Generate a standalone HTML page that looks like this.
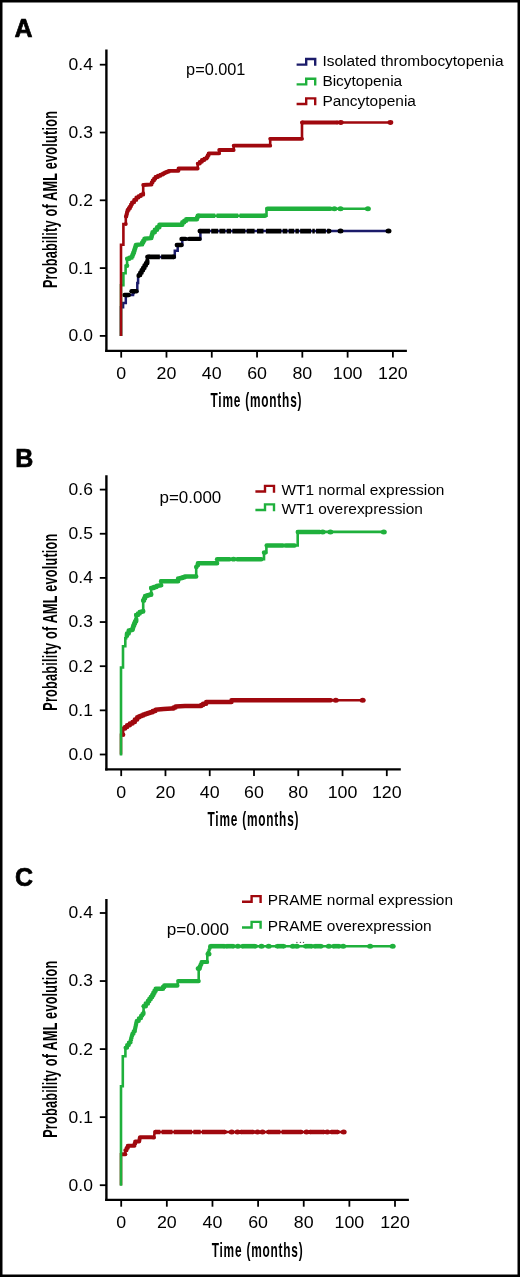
<!DOCTYPE html>
<html><head><meta charset="utf-8"><title>AML evolution</title>
<style>html,body{margin:0;padding:0;background:#fff;}svg{display:block;will-change:transform;}text{fill:#000;}</style>
</head><body>
<svg width="520" height="1277" viewBox="0 0 520 1277" font-family='"Liberation Sans", sans-serif'>
<rect x="0" y="0" width="520" height="1277" fill="#000"/>
<rect x="2.5" y="2.5" width="515" height="1272" fill="#fff"/>
<text x="14.5" y="36.6" font-size="25.0" text-anchor="start" font-weight="bold" stroke="#000" stroke-width="0.7" stroke-linejoin="round">A</text>
<text x="15.3" y="466.9" font-size="25.0" text-anchor="start" font-weight="bold" stroke="#000" stroke-width="0.7" stroke-linejoin="round">B</text>
<text x="15.0" y="885.7" font-size="25.0" text-anchor="start" font-weight="bold" stroke="#000" stroke-width="0.7" stroke-linejoin="round">C</text>
<line x1="106.4" y1="49.4" x2="106.4" y2="352.0" stroke="#000" stroke-width="2.4"/>
<line x1="105.2" y1="350.8" x2="406.9" y2="350.8" stroke="#000" stroke-width="2.2"/>
<line x1="99.8" y1="335.9" x2="106" y2="335.9" stroke="#000" stroke-width="1.8"/>
<text transform="translate(92.9,341.30) scale(1.06,1)" font-size="16.5" text-anchor="end">0.0</text>
<line x1="99.8" y1="268.09999999999997" x2="106" y2="268.09999999999997" stroke="#000" stroke-width="1.8"/>
<text transform="translate(92.9,273.50) scale(1.06,1)" font-size="16.5" text-anchor="end">0.1</text>
<line x1="99.8" y1="200.29999999999998" x2="106" y2="200.29999999999998" stroke="#000" stroke-width="1.8"/>
<text transform="translate(92.9,205.70) scale(1.06,1)" font-size="16.5" text-anchor="end">0.2</text>
<line x1="99.8" y1="132.49999999999997" x2="106" y2="132.49999999999997" stroke="#000" stroke-width="1.8"/>
<text transform="translate(92.9,137.90) scale(1.06,1)" font-size="16.5" text-anchor="end">0.3</text>
<line x1="99.8" y1="64.69999999999999" x2="106" y2="64.69999999999999" stroke="#000" stroke-width="1.8"/>
<text transform="translate(92.9,70.10) scale(1.06,1)" font-size="16.5" text-anchor="end">0.4</text>
<line x1="121.20" y1="350.8" x2="121.20" y2="357.6" stroke="#000" stroke-width="1.8"/>
<text transform="translate(121.20,378.80) scale(1.08,1)" font-size="16.5" text-anchor="middle">0</text>
<line x1="166.48" y1="350.8" x2="166.48" y2="357.6" stroke="#000" stroke-width="1.8"/>
<text transform="translate(166.48,378.80) scale(1.08,1)" font-size="16.5" text-anchor="middle">20</text>
<line x1="211.77" y1="350.8" x2="211.77" y2="357.6" stroke="#000" stroke-width="1.8"/>
<text transform="translate(211.77,378.80) scale(1.08,1)" font-size="16.5" text-anchor="middle">40</text>
<line x1="257.05" y1="350.8" x2="257.05" y2="357.6" stroke="#000" stroke-width="1.8"/>
<text transform="translate(257.05,378.80) scale(1.08,1)" font-size="16.5" text-anchor="middle">60</text>
<line x1="302.33" y1="350.8" x2="302.33" y2="357.6" stroke="#000" stroke-width="1.8"/>
<text transform="translate(302.33,378.80) scale(1.08,1)" font-size="16.5" text-anchor="middle">80</text>
<line x1="347.62" y1="350.8" x2="347.62" y2="357.6" stroke="#000" stroke-width="1.8"/>
<text transform="translate(347.62,378.80) scale(1.08,1)" font-size="16.5" text-anchor="middle">100</text>
<line x1="392.90" y1="350.8" x2="392.90" y2="357.6" stroke="#000" stroke-width="1.8"/>
<text transform="translate(392.90,378.80) scale(1.08,1)" font-size="16.5" text-anchor="middle">120</text>
<g transform="translate(256.0,407.2) scale(0.6,1)"><text x="0" y="0" font-size="19.8" text-anchor="middle" font-weight="bold" textLength="151.67" lengthAdjust="spacing">Time (months)</text></g>
<g transform="translate(57.4,199.6) rotate(-90) scale(0.6,1)"><text x="0" y="0" font-size="21.1" text-anchor="middle" font-weight="bold" textLength="295.00" lengthAdjust="spacing">Probability of AML evolution</text></g>
<text x="186.1" y="75.0" font-size="16.2" text-anchor="start" font-weight="normal" textLength="59.3" lengthAdjust="spacingAndGlyphs">p=0.001</text>
<path d="M296.6,64.6 H306.20000000000005 V58.99999999999999 H315.20000000000005 V65.8" fill="none" stroke="#1b1b6a" stroke-width="2.4" stroke-linecap="butt" stroke-linejoin="miter"/>
<path d="M296.6,84.4 H306.20000000000005 V78.80000000000001 H315.20000000000005 V85.60000000000001" fill="none" stroke="#1fb03c" stroke-width="2.4" stroke-linecap="butt" stroke-linejoin="miter"/>
<path d="M296.6,104.0 H306.20000000000005 V98.4 H315.20000000000005 V105.2" fill="none" stroke="#a0080e" stroke-width="2.4" stroke-linecap="butt" stroke-linejoin="miter"/>
<text x="322.4" y="66.3" font-size="15.45" text-anchor="start" font-weight="normal" >Isolated thrombocytopenia</text>
<text x="322.4" y="86.2" font-size="15.45" text-anchor="start" font-weight="normal" >Bicytopenia</text>
<text x="322.4" y="105.9" font-size="15.45" text-anchor="start" font-weight="normal" >Pancytopenia</text>
<path d="M121,336 L121,307.3 L123.1,307.3 L123.1,303.1 L125.8,303.1 L125.8,298.1 L126.5,295 L132.3,295 L133.05,295 L133.05,293.1 L133.8,293.1 L133.8,291.2 L137.3,291.2 L137.3,283.1 L138.1,283.1 L138.1,278.1 L138.8,275 L140.22,275 L140.22,272.63 L141.63,272.63 L141.63,270.27 L143.05,270.27 L143.05,267.9 L144.47,267.9 L144.47,265.53 L145.88,265.53 L145.88,263.17 L147.3,263.17 L147.3,260.8 L147.3,256.9 L174.8,256.9 L174.8,250.8 L177.7,250.8 L177.7,245 L182.3,245 L182.3,238.9 L200.4,238.9 L200.4,231.1 L388.5,231.1" fill="none" stroke="#1b1b6a" stroke-width="2.5" stroke-linejoin="miter" stroke-miterlimit="2"/>
<path d="M124.5,295 L128.8,295" fill="none" stroke="#000" stroke-width="4.4" stroke-linecap="round" stroke-linejoin="round"/>
<path d="M131.5,291.2 L136.5,291.2" fill="none" stroke="#000" stroke-width="4.4" stroke-linecap="round" stroke-linejoin="round"/>
<path d="M176.8,245 L181.5,245" fill="none" stroke="#000" stroke-width="4.4" stroke-linecap="round" stroke-linejoin="round"/>
<path d="M181.5,238.9 L185.5,238.9" fill="none" stroke="#000" stroke-width="4.4" stroke-linecap="round" stroke-linejoin="round"/>
<path d="M189,238.9 L199.5,238.9" fill="none" stroke="#000" stroke-width="4.4" stroke-linecap="round" stroke-linejoin="round"/>
<path d="M148.50,256.9 H159.85 M161.15,256.9 H173.80" fill="none" stroke="#000" stroke-width="4.6" stroke-linecap="butt"/>
<circle cx="148.5" cy="256.9" r="2.3" fill="#000"/><circle cx="173.8" cy="256.9" r="2.3" fill="#000"/>
<path d="M199.80,231.1 H209.95 M211.25,231.1 H218.15 M219.45,231.1 H225.35 M226.65,231.1 H231.05 M232.35,231.1 H245.35 M246.65,231.1 H254.60 M257.00,231.1 H263.50 M265.90,231.1 H281.35 M282.65,231.1 H287.35 M288.65,231.1 H294.15 M295.45,231.1 H298.85 M300.15,231.1 H311.05 M312.35,231.1 H314.75 M316.05,231.1 H325.85 M327.15,231.1 H329.20" fill="none" stroke="#000" stroke-width="4.6" stroke-linecap="butt"/>
<circle cx="199.8" cy="231.1" r="2.3" fill="#000"/><circle cx="329.2" cy="231.1" r="2.3" fill="#000"/>
<path d="M138.6,275.89 L138.8,275 L140.22,275 L140.22,272.63 L141.63,272.63 L141.63,270.27 L143.05,270.27 L143.05,267.9 L144.47,267.9 L144.47,265.53 L145.88,265.53 L145.88,263.17 L147.3,263.17 L147.3,260.8" fill="none" stroke="#000" stroke-width="4.4" stroke-linecap="round" stroke-linejoin="round"/>
<path d="M147.3,256.9 L147.3,256.9" fill="none" stroke="#000" stroke-width="4.4" stroke-linecap="round" stroke-linejoin="round"/>
<ellipse cx="340.5" cy="231.1" rx="3.00" ry="2.50" fill="#000"/>
<ellipse cx="388.5" cy="231.1" rx="3.00" ry="2.50" fill="#000"/>
<path d="M121,336 L121,285.2 L123.4,285.2 L123.4,273.3 L125.6,273.3 L125.6,265.8 L127.1,265.8 L127.1,258.8 L129.4,258.8 L129.4,257.65 L131.7,257.65 L131.7,256.5 L132.47,256.5 L132.47,254.6 L133.23,254.6 L133.23,252.7 L134,252.7 L134,250.8 L134.6,250.8 L134.6,248.87 L135.2,248.87 L135.2,246.93 L135.8,246.93 L135.8,245 L141,244.4 L142.13,244.4 L142.13,242.5 L143.27,242.5 L143.27,240.6 L144.4,240.6 L144.4,238.7 L150.8,238.1 L151.37,238.1 L151.37,236.17 L151.93,236.17 L151.93,234.23 L152.5,234.23 L152.5,232.3 L154.8,232.3 L154.8,229.8 L157.1,229.8 L157.1,227.3 L159.4,227.3 L159.4,224.8 L180.4,224.8 L182.3,224.8 L182.3,222.3 L184.25,222.3 L184.25,220.8 L186.2,220.8 L186.2,219.3 L196.2,219.3 L196.95,219.3 L196.95,217.55 L197.7,217.55 L197.7,215.8 L266.5,215.8 L266.5,208.8 L367.9,208.8" fill="none" stroke="#1fb03c" stroke-width="2.6" stroke-linejoin="miter" stroke-miterlimit="2"/>
<path d="M127.1,265.8 L127.1,265.8" fill="none" stroke="#1fb03c" stroke-width="4.4" stroke-linecap="round" stroke-linejoin="round"/>
<path d="M127.1,258.8 L129.4,258.8 L129.4,257.65 L131.7,257.65 L131.7,256.5 L132.47,256.5 L132.47,254.6 L133.23,254.6 L133.23,252.7 L134,252.7 L134,250.8 L134.6,250.8 L134.6,248.87 L135.2,248.87 L135.2,246.93 L135.8,246.93 L135.8,245 L141,244.4 L142.13,244.4 L142.13,242.5 L143.27,242.5 L143.27,240.6 L144.4,240.6 L144.4,238.7 L150.8,238.1 L151.37,238.1 L151.37,236.17 L151.93,236.17 L151.93,234.23 L152.5,234.23 L152.5,232.3 L154.8,232.3 L154.8,229.8 L157.1,229.8 L157.1,227.3 L159.4,227.3 L159.4,224.8 L180.4,224.8 L182.3,224.8 L182.3,222.3 L184.25,222.3 L184.25,220.8 L186.2,220.8 L186.2,219.3 L196.2,219.3 L196.95,219.3 L196.95,217.55 L197.7,217.55 L197.7,215.8 L197.7,215.8" fill="none" stroke="#1fb03c" stroke-width="4.4" stroke-linecap="round" stroke-linejoin="round"/>
<path d="M198.50,215.8 H215.25 M216.55,215.8 H238.25 M239.55,215.8 H265.00" fill="none" stroke="#1fb03c" stroke-width="4.6" stroke-linecap="butt"/>
<circle cx="198.5" cy="215.8" r="2.3" fill="#1fb03c"/><circle cx="265.0" cy="215.8" r="2.3" fill="#1fb03c"/>
<path d="M267.5,208.8 L330.4,208.8" fill="none" stroke="#1fb03c" stroke-width="4.6" stroke-linecap="round" stroke-linejoin="round"/>
<ellipse cx="334.4" cy="208.8" rx="3.00" ry="2.50" fill="#1fb03c"/>
<ellipse cx="340.5" cy="208.8" rx="3.00" ry="2.50" fill="#1fb03c"/>
<ellipse cx="367.9" cy="208.8" rx="3.00" ry="2.50" fill="#1fb03c"/>
<path d="M121,336 L121,244.7 L123.4,244.7 L123.4,224 L125.8,224 L125.8,216.5 L126.37,216.5 L126.37,214.33 L126.93,214.33 L126.93,212.17 L127.5,212.17 L127.5,210 L128.75,210 L128.75,208.15 L130,208.15 L130,206.3 L131,206.3 L131,204.3 L132,204.3 L132,202.3 L134.15,202.3 L134.15,199.9 L136.3,199.9 L136.3,197.5 L138.6,197.5 L138.6,196.07 L140.9,196.07 L140.9,194.63 L143.2,194.63 L143.2,193.2 L143.2,185 L150.6,184.5 L151.6,184.5 L151.6,182.5 L152.6,182.5 L152.6,180.5 L154,180.5 L154,178.75 L155.4,178.75 L155.4,177 L157.93,177 L157.93,175.77 L160.47,175.77 L160.47,174.53 L163,174.53 L163,173.3 L164.93,173.3 L164.93,172.47 L166.87,172.47 L166.87,171.63 L168.8,171.63 L168.8,170.8 L178.5,170.8 L178.5,168.5 L197.7,168.5 L197.7,163.6 L199.8,163.6 L199.8,161.8 L201.9,161.8 L201.9,160 L204.3,160 L204.3,158.55 L206.7,158.55 L206.7,157.1 L207.7,157.1 L207.7,155.2 L208.7,155.2 L208.7,153.3 L219.2,153.3 L219.2,150 L233.7,150 L233.7,145.7 L270.2,145.7 L270.2,138.8 L302,138.8 L302,122.5 L390.4,122.5" fill="none" stroke="#a0080e" stroke-width="2.6" stroke-linejoin="miter" stroke-miterlimit="2"/>
<path d="M125.8,224 L125.8,224" fill="none" stroke="#a0080e" stroke-width="3.8" stroke-linecap="round" stroke-linejoin="round"/>
<path d="M125.8,216.5 L126.37,216.5 L126.37,214.33 L126.93,214.33 L126.93,212.17 L127.5,212.17 L127.5,210 L128.75,210 L128.75,208.15 L130,208.15 L130,206.3 L131,206.3 L131,204.3 L132,204.3 L132,202.3 L134.15,202.3 L134.15,199.9 L136.3,199.9 L136.3,197.5 L138.6,197.5 L138.6,196.07 L140.9,196.07 L140.9,194.63 L143.2,194.63 L143.2,193.2" fill="none" stroke="#a0080e" stroke-width="3.8" stroke-linecap="round" stroke-linejoin="round"/>
<path d="M143.2,185 L150.6,184.5 L151.6,184.5 L151.6,182.5 L152.6,182.5 L152.6,180.5 L154,180.5 L154,178.75 L155.4,178.75 L155.4,177 L157.93,177 L157.93,175.77 L160.47,175.77 L160.47,174.53 L163,174.53 L163,173.3 L164.93,173.3 L164.93,172.47 L166.87,172.47 L166.87,171.63 L168.8,171.63 L168.8,170.8 L178.5,170.8 L178.5,168.5 L197.7,168.5" fill="none" stroke="#a0080e" stroke-width="3.8" stroke-linecap="round" stroke-linejoin="round"/>
<path d="M197.7,163.6 L199.8,163.6 L199.8,161.8 L201.9,161.8 L201.9,160 L204.3,160 L204.3,158.55 L206.7,158.55 L206.7,157.1 L207.7,157.1 L207.7,155.2 L208.7,155.2 L208.7,153.3 L219.2,153.3" fill="none" stroke="#a0080e" stroke-width="3.8" stroke-linecap="round" stroke-linejoin="round"/>
<path d="M219.2,150 L233.7,150" fill="none" stroke="#a0080e" stroke-width="3.8" stroke-linecap="round" stroke-linejoin="round"/>
<path d="M233.7,145.7 L270.2,145.7" fill="none" stroke="#a0080e" stroke-width="3.8" stroke-linecap="round" stroke-linejoin="round"/>
<path d="M270.2,138.8 L302,138.8" fill="none" stroke="#a0080e" stroke-width="3.8" stroke-linecap="round" stroke-linejoin="round"/>
<path d="M302,122.5 L302,122.5" fill="none" stroke="#a0080e" stroke-width="3.8" stroke-linecap="round" stroke-linejoin="round"/>
<path d="M302.50,122.5 H337.50" fill="none" stroke="#a0080e" stroke-width="4.0" stroke-linecap="butt"/>
<circle cx="302.5" cy="122.5" r="2.0" fill="#a0080e"/><circle cx="337.5" cy="122.5" r="2.0" fill="#a0080e"/>
<ellipse cx="340.8" cy="122.5" rx="2.88" ry="2.40" fill="#a0080e"/>
<ellipse cx="390.4" cy="122.5" rx="2.88" ry="2.40" fill="#a0080e"/>
<line x1="106.4" y1="475.2" x2="106.4" y2="770.5" stroke="#000" stroke-width="2.4"/>
<line x1="105.2" y1="769.3" x2="400.8" y2="769.3" stroke="#000" stroke-width="2.2"/>
<line x1="99.8" y1="754.5" x2="106" y2="754.5" stroke="#000" stroke-width="1.8"/>
<text transform="translate(92.9,759.90) scale(1.06,1)" font-size="16.5" text-anchor="end">0.0</text>
<line x1="99.8" y1="710.35" x2="106" y2="710.35" stroke="#000" stroke-width="1.8"/>
<text transform="translate(92.9,715.75) scale(1.06,1)" font-size="16.5" text-anchor="end">0.1</text>
<line x1="99.8" y1="666.2" x2="106" y2="666.2" stroke="#000" stroke-width="1.8"/>
<text transform="translate(92.9,671.60) scale(1.06,1)" font-size="16.5" text-anchor="end">0.2</text>
<line x1="99.8" y1="622.05" x2="106" y2="622.05" stroke="#000" stroke-width="1.8"/>
<text transform="translate(92.9,627.45) scale(1.06,1)" font-size="16.5" text-anchor="end">0.3</text>
<line x1="99.8" y1="577.9" x2="106" y2="577.9" stroke="#000" stroke-width="1.8"/>
<text transform="translate(92.9,583.30) scale(1.06,1)" font-size="16.5" text-anchor="end">0.4</text>
<line x1="99.8" y1="533.75" x2="106" y2="533.75" stroke="#000" stroke-width="1.8"/>
<text transform="translate(92.9,539.15) scale(1.06,1)" font-size="16.5" text-anchor="end">0.5</text>
<line x1="99.8" y1="489.6" x2="106" y2="489.6" stroke="#000" stroke-width="1.8"/>
<text transform="translate(92.9,495.00) scale(1.06,1)" font-size="16.5" text-anchor="end">0.6</text>
<line x1="121.20" y1="769.3" x2="121.20" y2="776.0999999999999" stroke="#000" stroke-width="1.8"/>
<text transform="translate(121.20,797.90) scale(1.08,1)" font-size="16.5" text-anchor="middle">0</text>
<line x1="165.47" y1="769.3" x2="165.47" y2="776.0999999999999" stroke="#000" stroke-width="1.8"/>
<text transform="translate(165.47,797.90) scale(1.08,1)" font-size="16.5" text-anchor="middle">20</text>
<line x1="209.73" y1="769.3" x2="209.73" y2="776.0999999999999" stroke="#000" stroke-width="1.8"/>
<text transform="translate(209.73,797.90) scale(1.08,1)" font-size="16.5" text-anchor="middle">40</text>
<line x1="254.00" y1="769.3" x2="254.00" y2="776.0999999999999" stroke="#000" stroke-width="1.8"/>
<text transform="translate(254.00,797.90) scale(1.08,1)" font-size="16.5" text-anchor="middle">60</text>
<line x1="298.27" y1="769.3" x2="298.27" y2="776.0999999999999" stroke="#000" stroke-width="1.8"/>
<text transform="translate(298.27,797.90) scale(1.08,1)" font-size="16.5" text-anchor="middle">80</text>
<line x1="342.53" y1="769.3" x2="342.53" y2="776.0999999999999" stroke="#000" stroke-width="1.8"/>
<text transform="translate(342.53,797.90) scale(1.08,1)" font-size="16.5" text-anchor="middle">100</text>
<line x1="386.80" y1="769.3" x2="386.80" y2="776.0999999999999" stroke="#000" stroke-width="1.8"/>
<text transform="translate(386.80,797.90) scale(1.08,1)" font-size="16.5" text-anchor="middle">120</text>
<g transform="translate(253.0,826.2) scale(0.6,1)"><text x="0" y="0" font-size="19.8" text-anchor="middle" font-weight="bold" textLength="151.67" lengthAdjust="spacing">Time (months)</text></g>
<g transform="translate(57.4,622.2) rotate(-90) scale(0.6,1)"><text x="0" y="0" font-size="21.1" text-anchor="middle" font-weight="bold" textLength="295.00" lengthAdjust="spacing">Probability of AML evolution</text></g>
<text x="159.5" y="503.0" font-size="16.2" text-anchor="start" font-weight="normal" textLength="61.8" lengthAdjust="spacingAndGlyphs">p=0.000</text>
<path d="M255.4,491.5 H265.0 V485.9 H274.0 V492.7" fill="none" stroke="#a0080e" stroke-width="2.4" stroke-linecap="butt" stroke-linejoin="miter"/>
<path d="M255.4,510.0 H265.0 V504.4 H274.0 V511.2" fill="none" stroke="#1fb03c" stroke-width="2.4" stroke-linecap="butt" stroke-linejoin="miter"/>
<text x="281.4" y="494.9" font-size="15.45" text-anchor="start" font-weight="normal" >WT1 normal expression</text>
<text x="281.4" y="514.2" font-size="15.45" text-anchor="start" font-weight="normal" >WT1 overexpression</text>
<path d="M121,754.5 L121,734.7 L123.1,734.7 L123.1,728.6 L125.1,728.6 L125.1,726.95 L127.1,726.95 L127.1,725.3 L129.8,725.3 L129.8,723.6 L132.5,723.6 L132.5,721.9 L134.85,721.9 L134.85,719.55 L137.2,719.55 L137.2,717.2 L139.23,717.2 L139.23,716.3 L141.27,716.3 L141.27,715.4 L143.3,715.4 L143.3,714.5 L145.53,714.5 L145.53,713.73 L147.77,713.73 L147.77,712.97 L150,712.97 L150,712.2 L152.7,712.2 L152.7,711 L155.4,711 L155.4,709.8 L163.5,709.1 L171.5,708.5 L173.55,708.5 L173.55,707.45 L175.6,707.45 L175.6,706.4 L185,706.1 L199.2,706.1 L201.15,706.1 L201.15,704.95 L203.1,704.95 L203.1,703.8 L206.2,703.8 L206.2,702 L230,702 L231.5,702 L231.5,700.2 L362.7,700.2" fill="none" stroke="#a0080e" stroke-width="2.6" stroke-linejoin="miter" stroke-miterlimit="2"/>
<path d="M123.1,734.7 L123.1,734.7" fill="none" stroke="#a0080e" stroke-width="4.5" stroke-linecap="round" stroke-linejoin="round"/>
<path d="M123.1,728.6 L125.1,728.6 L125.1,726.95 L127.1,726.95 L127.1,725.3 L129.8,725.3 L129.8,723.6 L132.5,723.6 L132.5,721.9 L134.85,721.9 L134.85,719.55 L137.2,719.55 L137.2,717.2 L139.23,717.2 L139.23,716.3 L141.27,716.3 L141.27,715.4 L143.3,715.4 L143.3,714.5 L145.53,714.5 L145.53,713.73 L147.77,713.73 L147.77,712.97 L150,712.97 L150,712.2 L152.7,712.2 L152.7,711 L155.4,711 L155.4,709.8 L163.5,709.1 L171.5,708.5 L173.55,708.5 L173.55,707.45 L175.6,707.45 L175.6,706.4 L185,706.1 L199.2,706.1 L201.15,706.1 L201.15,704.95 L203.1,704.95 L203.1,703.8 L206.2,703.8 L206.2,702 L230,702 L231.5,702 L231.5,700.2 L330.8,700.2" fill="none" stroke="#a0080e" stroke-width="4.5" stroke-linecap="round" stroke-linejoin="round"/>
<ellipse cx="335.8" cy="700.2" rx="3.00" ry="2.50" fill="#a0080e"/>
<ellipse cx="362.7" cy="700.2" rx="3.00" ry="2.50" fill="#a0080e"/>
<path d="M121,755.5 L121,667.5 L123,667.5 L123,646.2 L125.3,646.2 L125.3,638.1 L126.15,638.1 L126.15,635.8 L127,635.8 L127,633.5 L128.7,633.5 L128.7,630.6 L130.45,630.6 L130.45,630 L132.2,630 L132.2,629.4 L132.75,629.4 L132.75,627.4 L133.3,627.4 L133.3,625.4 L134.2,625.4 L134.2,623.35 L135.1,623.35 L135.1,621.3 L136.2,621.3 L136.2,619 L136.2,615 L137.95,615 L137.95,613.55 L139.7,613.55 L139.7,612.1 L141.45,612.1 L141.45,611.55 L143.2,611.55 L143.2,611 L143.2,600.6 L144.15,600.6 L144.15,598.3 L145.1,598.3 L145.1,596 L147.13,596 L147.13,595.33 L149.17,595.33 L149.17,594.67 L151.2,594.67 L151.2,594 L151.2,588 L153.85,588 L153.85,587 L156.5,587 L156.5,586 L161.2,585.3 L161.2,581.2 L175.4,581.2 L178.1,581.2 L178.1,578.6 L180.33,578.6 L180.33,577.9 L182.57,577.9 L182.57,577.2 L184.8,577.2 L184.8,576.5 L196.2,576.5 L196.2,567.1 L197.05,567.1 L197.05,565.2 L197.9,565.2 L197.9,563.3 L217.1,563.3 L217.1,559.2 L264,559.2 L264,552.5 L266.4,552.5 L266.4,545.5 L297.7,545.5 L297.7,531.9 L383.8,531.9" fill="none" stroke="#1fb03c" stroke-width="2.6" stroke-linejoin="miter" stroke-miterlimit="2"/>
<path d="M127,635.8 L127,635.8 L127,633.5 L128.7,633.5 L128.7,630.6 L130.45,630.6 L130.45,630 L132.2,630 L132.2,629.4 L132.75,629.4 L132.75,627.4 L133.3,627.4 L133.3,625.4 L134.2,625.4 L134.2,623.35 L135.1,623.35 L135.1,621.3 L136.2,621.3 L136.2,619" fill="none" stroke="#1fb03c" stroke-width="4.5" stroke-linecap="round" stroke-linejoin="round"/>
<path d="M136.2,615 L136.2,615" fill="none" stroke="#1fb03c" stroke-width="4.5" stroke-linecap="round" stroke-linejoin="round"/>
<path d="M136.3,615 L137.95,615 L137.95,613.55 L139.7,613.55 L139.7,612.1 L141.45,612.1 L141.45,611.55 L143.2,611.55 L143.2,611" fill="none" stroke="#1fb03c" stroke-width="4.5" stroke-linecap="round" stroke-linejoin="round"/>
<path d="M143.2,600.6 L143.2,600.6" fill="none" stroke="#1fb03c" stroke-width="4.5" stroke-linecap="round" stroke-linejoin="round"/>
<path d="M143.3,600.6 L144.15,600.6 L144.15,598.3 L145.1,598.3 L145.1,596 L147.13,596 L147.13,595.33 L149.17,595.33 L149.17,594.67 L151.2,594.67 L151.2,594" fill="none" stroke="#1fb03c" stroke-width="4.5" stroke-linecap="round" stroke-linejoin="round"/>
<path d="M151.2,588 L151.2,588" fill="none" stroke="#1fb03c" stroke-width="4.5" stroke-linecap="round" stroke-linejoin="round"/>
<path d="M151.3,588 L153.85,588 L153.85,587 L156.5,587 L156.5,586 L161.2,585.3" fill="none" stroke="#1fb03c" stroke-width="4.5" stroke-linecap="round" stroke-linejoin="round"/>
<path d="M161.2,581.2 L161.2,581.2" fill="none" stroke="#1fb03c" stroke-width="4.5" stroke-linecap="round" stroke-linejoin="round"/>
<path d="M161.3,581.2 L175.4,581.2 L178.1,581.2 L178.1,578.6 L180.33,578.6 L180.33,577.9 L182.57,577.9 L182.57,577.2 L184.8,577.2 L184.8,576.5 L196.2,576.5" fill="none" stroke="#1fb03c" stroke-width="4.5" stroke-linecap="round" stroke-linejoin="round"/>
<path d="M196.2,567.1 L196.2,567.1" fill="none" stroke="#1fb03c" stroke-width="4.5" stroke-linecap="round" stroke-linejoin="round"/>
<path d="M197.9,565.2 L197.9,565.2 L197.9,563.3 L217.1,563.3" fill="none" stroke="#1fb03c" stroke-width="4.5" stroke-linecap="round" stroke-linejoin="round"/>
<path d="M217.1,559.2 L229.6,559.2" fill="none" stroke="#1fb03c" stroke-width="4.5" stroke-linecap="round" stroke-linejoin="round"/>
<path d="M237.3,559.2 L261.3,559.2" fill="none" stroke="#1fb03c" stroke-width="4.5" stroke-linecap="round" stroke-linejoin="round"/>
<path d="M266.7,545.5 L282.9,545.5" fill="none" stroke="#1fb03c" stroke-width="4.5" stroke-linecap="round" stroke-linejoin="round"/>
<path d="M285.6,545.5 L294.5,545.5" fill="none" stroke="#1fb03c" stroke-width="4.5" stroke-linecap="round" stroke-linejoin="round"/>
<path d="M297.8,531.9 L319.8,531.9" fill="none" stroke="#1fb03c" stroke-width="4.5" stroke-linecap="round" stroke-linejoin="round"/>
<ellipse cx="233.5" cy="559.2" rx="2.88" ry="2.40" fill="#1fb03c"/>
<ellipse cx="264.6" cy="552.5" rx="2.76" ry="2.30" fill="#1fb03c"/>
<ellipse cx="322.7" cy="531.9" rx="3.00" ry="2.50" fill="#1fb03c"/>
<ellipse cx="330.4" cy="531.9" rx="3.00" ry="2.50" fill="#1fb03c"/>
<ellipse cx="383.8" cy="531.9" rx="3.00" ry="2.50" fill="#1fb03c"/>
<line x1="106.4" y1="899.0" x2="106.4" y2="1201.1000000000001" stroke="#000" stroke-width="2.4"/>
<line x1="105.2" y1="1199.9" x2="408.9" y2="1199.9" stroke="#000" stroke-width="2.2"/>
<line x1="99.8" y1="1185.2" x2="106" y2="1185.2" stroke="#000" stroke-width="1.8"/>
<text transform="translate(92.9,1190.60) scale(1.06,1)" font-size="16.5" text-anchor="end">0.0</text>
<line x1="99.8" y1="1117.15" x2="106" y2="1117.15" stroke="#000" stroke-width="1.8"/>
<text transform="translate(92.9,1122.55) scale(1.06,1)" font-size="16.5" text-anchor="end">0.1</text>
<line x1="99.8" y1="1049.1000000000001" x2="106" y2="1049.1000000000001" stroke="#000" stroke-width="1.8"/>
<text transform="translate(92.9,1054.50) scale(1.06,1)" font-size="16.5" text-anchor="end">0.2</text>
<line x1="99.8" y1="981.0500000000001" x2="106" y2="981.0500000000001" stroke="#000" stroke-width="1.8"/>
<text transform="translate(92.9,986.45) scale(1.06,1)" font-size="16.5" text-anchor="end">0.3</text>
<line x1="99.8" y1="913.0" x2="106" y2="913.0" stroke="#000" stroke-width="1.8"/>
<text transform="translate(92.9,918.40) scale(1.06,1)" font-size="16.5" text-anchor="end">0.4</text>
<line x1="121.20" y1="1199.9" x2="121.20" y2="1206.7" stroke="#000" stroke-width="1.8"/>
<text transform="translate(121.20,1227.90) scale(1.08,1)" font-size="16.5" text-anchor="middle">0</text>
<line x1="166.83" y1="1199.9" x2="166.83" y2="1206.7" stroke="#000" stroke-width="1.8"/>
<text transform="translate(166.83,1227.90) scale(1.08,1)" font-size="16.5" text-anchor="middle">20</text>
<line x1="212.47" y1="1199.9" x2="212.47" y2="1206.7" stroke="#000" stroke-width="1.8"/>
<text transform="translate(212.47,1227.90) scale(1.08,1)" font-size="16.5" text-anchor="middle">40</text>
<line x1="258.10" y1="1199.9" x2="258.10" y2="1206.7" stroke="#000" stroke-width="1.8"/>
<text transform="translate(258.10,1227.90) scale(1.08,1)" font-size="16.5" text-anchor="middle">60</text>
<line x1="303.73" y1="1199.9" x2="303.73" y2="1206.7" stroke="#000" stroke-width="1.8"/>
<text transform="translate(303.73,1227.90) scale(1.08,1)" font-size="16.5" text-anchor="middle">80</text>
<line x1="349.37" y1="1199.9" x2="349.37" y2="1206.7" stroke="#000" stroke-width="1.8"/>
<text transform="translate(349.37,1227.90) scale(1.08,1)" font-size="16.5" text-anchor="middle">100</text>
<line x1="395.00" y1="1199.9" x2="395.00" y2="1206.7" stroke="#000" stroke-width="1.8"/>
<text transform="translate(395.00,1227.90) scale(1.08,1)" font-size="16.5" text-anchor="middle">120</text>
<g transform="translate(257.2,1257.0) scale(0.6,1)"><text x="0" y="0" font-size="19.8" text-anchor="middle" font-weight="bold" textLength="151.67" lengthAdjust="spacing">Time (months)</text></g>
<g transform="translate(57.4,1049.3) rotate(-90) scale(0.6,1)"><text x="0" y="0" font-size="21.1" text-anchor="middle" font-weight="bold" textLength="295.00" lengthAdjust="spacing">Probability of AML evolution</text></g>
<text x="166.8" y="934.5" font-size="16.2" text-anchor="start" font-weight="normal" textLength="62.3" lengthAdjust="spacingAndGlyphs">p=0.000</text>
<path d="M242.0,901.7 H251.6 V896.1 H260.6 V902.9000000000001" fill="none" stroke="#a0080e" stroke-width="2.4" stroke-linecap="butt" stroke-linejoin="miter"/>
<path d="M242.0,927.5 H251.6 V921.9 H260.6 V928.7" fill="none" stroke="#1fb03c" stroke-width="2.4" stroke-linecap="butt" stroke-linejoin="miter"/>
<text x="267.7" y="905.2" font-size="15.45" text-anchor="start" font-weight="normal" >PRAME normal expression</text>
<text x="267.7" y="930.6" font-size="15.45" text-anchor="start" font-weight="normal" >PRAME overexpression</text>
<path d="M121,1185.2 L121,1154.3 L125.3,1154.3 L125.3,1150.3 L126.55,1150.3 L126.55,1148.05 L127.8,1148.05 L127.8,1145.8 L133.8,1145.8 L134.5,1145.8 L134.5,1143.65 L135.2,1143.65 L135.2,1141.5 L139.2,1141.5 L139.9,1137.2 L151.3,1137.2 L154,1137.5 L154.7,1132 L343.7,1132" fill="none" stroke="#a0080e" stroke-width="2.6" stroke-linejoin="miter" stroke-miterlimit="2"/>
<path d="M122.6,1154.3 L125.3,1154.3" fill="none" stroke="#a0080e" stroke-width="4.0" stroke-linecap="round" stroke-linejoin="round"/>
<path d="M125.3,1150.3 L126.55,1150.3 L126.55,1148.05 L127.8,1148.05 L127.8,1145.8 L133.8,1145.8 L134.5,1145.8 L134.5,1143.65 L135.2,1143.65 L135.2,1141.5 L139.2,1141.5 L139.9,1137.2 L151.3,1137.2 L154,1137.5 L154,1137.5" fill="none" stroke="#a0080e" stroke-width="4.0" stroke-linecap="round" stroke-linejoin="round"/>
<path d="M155.50,1132 H160.35 M161.65,1132 H172.45 M173.75,1132 H192.05 M193.35,1132 H200.65 M201.95,1132 H224.80" fill="none" stroke="#a0080e" stroke-width="4.5" stroke-linecap="butt"/>
<circle cx="155.5" cy="1132" r="2.25" fill="#a0080e"/><circle cx="224.8" cy="1132" r="2.25" fill="#a0080e"/>
<path d="M241.00,1132 H253.10" fill="none" stroke="#a0080e" stroke-width="4.5" stroke-linecap="butt"/>
<circle cx="241.0" cy="1132" r="2.25" fill="#a0080e"/><circle cx="253.1" cy="1132" r="2.25" fill="#a0080e"/>
<path d="M268.30,1132 H280.35 M281.65,1132 H301.20" fill="none" stroke="#a0080e" stroke-width="4.5" stroke-linecap="butt"/>
<circle cx="268.3" cy="1132" r="2.25" fill="#a0080e"/><circle cx="301.2" cy="1132" r="2.25" fill="#a0080e"/>
<path d="M310.00,1132 H323.80" fill="none" stroke="#a0080e" stroke-width="4.5" stroke-linecap="butt"/>
<circle cx="310.0" cy="1132" r="2.25" fill="#a0080e"/><circle cx="323.8" cy="1132" r="2.25" fill="#a0080e"/>
<path d="M331.60,1132 H337.70" fill="none" stroke="#a0080e" stroke-width="4.5" stroke-linecap="butt"/>
<circle cx="331.6" cy="1132" r="2.25" fill="#a0080e"/><circle cx="337.7" cy="1132" r="2.25" fill="#a0080e"/>
<ellipse cx="231.7" cy="1132" rx="3.00" ry="2.50" fill="#a0080e"/>
<ellipse cx="237.5" cy="1132" rx="3.00" ry="2.50" fill="#a0080e"/>
<ellipse cx="257.5" cy="1132" rx="3.00" ry="2.50" fill="#a0080e"/>
<ellipse cx="262.5" cy="1132" rx="3.00" ry="2.50" fill="#a0080e"/>
<ellipse cx="306.5" cy="1132" rx="3.00" ry="2.50" fill="#a0080e"/>
<ellipse cx="327.3" cy="1132" rx="3.00" ry="2.50" fill="#a0080e"/>
<ellipse cx="343.7" cy="1132" rx="3.00" ry="2.50" fill="#a0080e"/>
<path d="M121,1185.8 L121,1086.2 L122.8,1086.2 L122.8,1056.3 L125.4,1056.3 L125.4,1047.7 L127.1,1047.7 L127.1,1045.1 L128.85,1045.1 L128.85,1042.5 L130.6,1042.5 L130.6,1039.9 L131.17,1039.9 L131.17,1037.87 L131.73,1037.87 L131.73,1035.83 L132.3,1035.83 L132.3,1033.8 L133.6,1033.8 L133.6,1031.25 L134.9,1031.25 L134.9,1028.7 L135.32,1028.7 L135.32,1026.75 L135.75,1026.75 L135.75,1024.8 L136.18,1024.8 L136.18,1022.85 L136.6,1022.85 L136.6,1020.9 L138.8,1020.9 L138.8,1018.3 L141,1018.3 L141,1015.7 L142.3,1015.7 L142.3,1013.95 L143.6,1013.95 L143.6,1012.2 L143.6,1006.2 L145.75,1006.2 L145.75,1003.6 L147.9,1003.6 L147.9,1001 L149.33,1001 L149.33,998.97 L150.77,998.97 L150.77,996.93 L152.2,996.93 L152.2,994.9 L153.37,994.9 L153.37,992.87 L154.53,992.87 L154.53,990.83 L155.7,990.83 L155.7,988.8 L161.7,988.8 L163,988.8 L163,987.1 L164.3,987.1 L164.3,985.4 L177.3,985.4 L178.2,981.1 L198.7,981.1 L198.7,968.5 L199.63,968.5 L199.63,966.37 L200.57,966.37 L200.57,964.23 L201.5,964.23 L201.5,962.1 L207.3,962.1 L207.3,954 L208.03,954 L208.03,952.05 L208.75,952.05 L208.75,950.1 L209.47,950.1 L209.47,948.15 L210.2,948.15 L210.2,946.2 L392.7,946.2" fill="none" stroke="#1fb03c" stroke-width="2.6" stroke-linejoin="miter" stroke-miterlimit="2"/>
<path d="M125.5,1047.7 L127.1,1047.7 L127.1,1045.1 L128.85,1045.1 L128.85,1042.5 L130.6,1042.5 L130.6,1039.9 L131.17,1039.9 L131.17,1037.87 L131.73,1037.87 L131.73,1035.83 L132.3,1035.83 L132.3,1033.8 L133.6,1033.8 L133.6,1031.25 L134.9,1031.25 L134.9,1028.7 L135.32,1028.7 L135.32,1026.75 L135.75,1026.75 L135.75,1024.8 L136.18,1024.8 L136.18,1022.85 L136.6,1022.85 L136.6,1020.9 L138.8,1020.9 L138.8,1018.3 L141,1018.3 L141,1015.7 L142.3,1015.7 L142.3,1013.95 L143.6,1013.95 L143.6,1012.2" fill="none" stroke="#1fb03c" stroke-width="4.0" stroke-linecap="round" stroke-linejoin="round"/>
<path d="M143.6,1006.2 L143.6,1006.2" fill="none" stroke="#1fb03c" stroke-width="4.0" stroke-linecap="round" stroke-linejoin="round"/>
<path d="M143.7,1006.2 L145.75,1006.2 L145.75,1003.6 L147.9,1003.6 L147.9,1001 L149.33,1001 L149.33,998.97 L150.77,998.97 L150.77,996.93 L152.2,996.93 L152.2,994.9 L153.37,994.9 L153.37,992.87 L154.53,992.87 L154.53,990.83 L155.7,990.83 L155.7,988.8 L161.7,988.8 L163,988.8 L163,987.1 L164.3,987.1 L164.3,985.4 L177.3,985.4 L177.3,985.4" fill="none" stroke="#1fb03c" stroke-width="4.5" stroke-linecap="round" stroke-linejoin="round"/>
<path d="M178.3,981.1 L198.6,981.1" fill="none" stroke="#1fb03c" stroke-width="4.4" stroke-linecap="round" stroke-linejoin="round"/>
<path d="M199.6,968.5 L199.63,968.5 L199.63,966.37 L200.57,966.37 L200.57,964.23 L201.5,964.23 L201.5,962.1 L207.2,962.1" fill="none" stroke="#1fb03c" stroke-width="4.0" stroke-linecap="round" stroke-linejoin="round"/>
<path d="M210.40,946.2 H224.60" fill="none" stroke="#1fb03c" stroke-width="4.6" stroke-linecap="butt"/>
<circle cx="210.4" cy="946.2" r="2.3" fill="#1fb03c"/><circle cx="224.6" cy="946.2" r="2.3" fill="#1fb03c"/>
<path d="M226.30,946.2 H233.60" fill="none" stroke="#1fb03c" stroke-width="4.6" stroke-linecap="butt"/>
<circle cx="226.3" cy="946.2" r="2.3" fill="#1fb03c"/><circle cx="233.6" cy="946.2" r="2.3" fill="#1fb03c"/>
<path d="M242.20,946.2 H255.60" fill="none" stroke="#1fb03c" stroke-width="4.6" stroke-linecap="butt"/>
<circle cx="242.2" cy="946.2" r="2.3" fill="#1fb03c"/><circle cx="255.6" cy="946.2" r="2.3" fill="#1fb03c"/>
<path d="M277.00,946.2 H284.00" fill="none" stroke="#1fb03c" stroke-width="4.6" stroke-linecap="butt"/>
<circle cx="277.0" cy="946.2" r="2.3" fill="#1fb03c"/><circle cx="284.0" cy="946.2" r="2.3" fill="#1fb03c"/>
<path d="M305.30,946.2 H311.90" fill="none" stroke="#1fb03c" stroke-width="4.6" stroke-linecap="butt"/>
<circle cx="305.3" cy="946.2" r="2.3" fill="#1fb03c"/><circle cx="311.9" cy="946.2" r="2.3" fill="#1fb03c"/>
<path d="M314.60,946.2 H321.40" fill="none" stroke="#1fb03c" stroke-width="4.6" stroke-linecap="butt"/>
<circle cx="314.6" cy="946.2" r="2.3" fill="#1fb03c"/><circle cx="321.4" cy="946.2" r="2.3" fill="#1fb03c"/>
<path d="M333.20,946.2 H339.40" fill="none" stroke="#1fb03c" stroke-width="4.6" stroke-linecap="butt"/>
<circle cx="333.2" cy="946.2" r="2.3" fill="#1fb03c"/><circle cx="339.4" cy="946.2" r="2.3" fill="#1fb03c"/>
<ellipse cx="198.7" cy="968.5" rx="3.00" ry="2.50" fill="#1fb03c"/>
<ellipse cx="208.5" cy="954" rx="3.00" ry="2.50" fill="#1fb03c"/>
<ellipse cx="237.9" cy="946.2" rx="3.00" ry="2.50" fill="#1fb03c"/>
<ellipse cx="261.5" cy="946.2" rx="3.00" ry="2.50" fill="#1fb03c"/>
<ellipse cx="268.7" cy="946.2" rx="3.00" ry="2.50" fill="#1fb03c"/>
<ellipse cx="292.9" cy="946.2" rx="3.00" ry="2.50" fill="#1fb03c"/>
<ellipse cx="296.9" cy="946.2" rx="3.00" ry="2.50" fill="#1fb03c"/>
<ellipse cx="328.8" cy="946.2" rx="3.00" ry="2.50" fill="#1fb03c"/>
<ellipse cx="343.2" cy="946.2" rx="3.00" ry="2.50" fill="#1fb03c"/>
<ellipse cx="370.1" cy="946.2" rx="3.00" ry="2.50" fill="#1fb03c"/>
<ellipse cx="392.7" cy="946.2" rx="3.00" ry="2.50" fill="#1fb03c"/>
<circle cx="296.9" cy="942.4" r="0.7" fill="#555"/>
<circle cx="300.4" cy="942.4" r="0.7" fill="#555"/>
<circle cx="303.5" cy="942.4" r="0.7" fill="#555"/>
</svg>
</body></html>
